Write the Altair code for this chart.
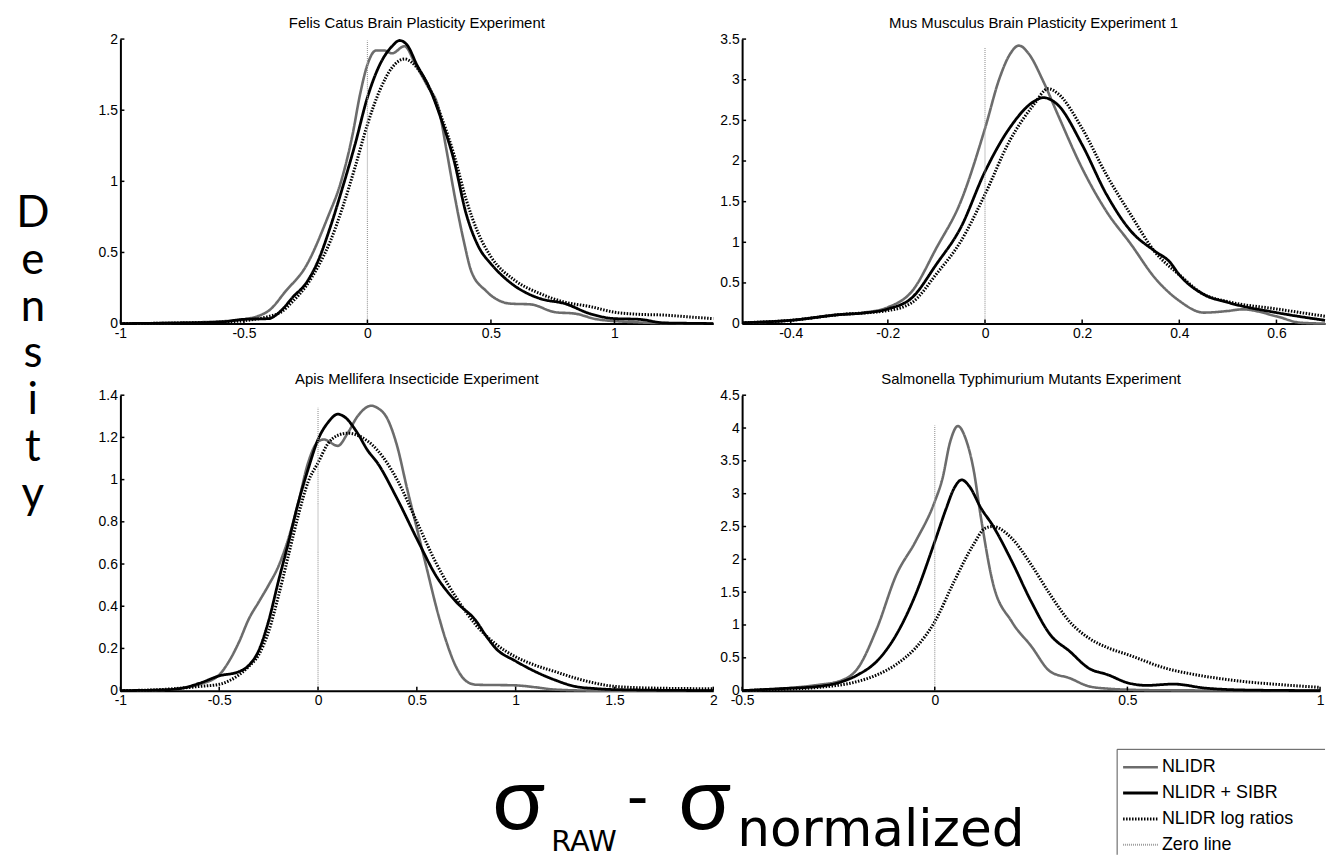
import altair as alt
import pandas as pd

# ---------------- text ----------------
titles = ["Felis Catus Brain Plasticity Experiment",
          "Mus Musculus Brain Plasticity Experiment 1",
          "Apis Mellifera Insecticide Experiment",
          "Salmonella Typhimurium Mutants Experiment"]
series_names = ["NLIDR", "NLIDR + SIBR", "NLIDR log ratios", "Zero line"]
y_title = "Density"

# ---------------- Felis Catus ----------------
felis_nlidr_x = [-1.0, -0.8, -0.6, -0.5, -0.4, -0.33, -0.25, -0.16, -0.11, -0.06, -0.03, 0.0, 0.035, 0.067, 0.10, 0.15, 0.195, 0.24, 0.29, 0.32, 0.356, 0.39, 0.42, 0.48, 0.58, 0.66, 0.76, 0.84, 0.93, 1.08, 1.2, 1.4]
felis_nlidr_y = [0.0, 0.005, 0.015, 0.03, 0.09, 0.23, 0.40, 0.75, 0.98, 1.33, 1.61, 1.82, 1.92, 1.92, 1.90, 1.95, 1.82, 1.68, 1.50, 1.22, 0.87, 0.58, 0.37, 0.23, 0.14, 0.135, 0.08, 0.07, 0.03, 0.01, 0.003, 0.0]
felis_sibr_x = [-1.0, -0.8, -0.6, -0.5, -0.4, -0.35, -0.3, -0.25, -0.2, -0.15, -0.1, -0.05, 0.0, 0.05, 0.1, 0.13, 0.16, 0.2, 0.25, 0.3, 0.35, 0.4, 0.45, 0.5, 0.55, 0.6, 0.65, 0.7, 0.8, 0.9, 1.0, 1.1, 1.2, 1.3, 1.4]
felis_sibr_y = [0.0, 0.003, 0.01, 0.03, 0.035, 0.09, 0.19, 0.28, 0.44, 0.68, 0.96, 1.26, 1.59, 1.82, 1.95, 1.99, 1.96, 1.82, 1.66, 1.43, 1.15, 0.77, 0.54, 0.42, 0.33, 0.26, 0.21, 0.175, 0.14, 0.07, 0.035, 0.03, 0.005, 0.002, 0.0]
felis_log_x = [-1.0, -0.8, -0.6, -0.5, -0.4, -0.35, -0.3, -0.25, -0.2, -0.15, -0.1, -0.05, 0.0, 0.05, 0.1, 0.15, 0.2, 0.25, 0.3, 0.35, 0.4, 0.45, 0.5, 0.6, 0.7, 0.8, 0.9, 1.0, 1.1, 1.2, 1.3, 1.4]
felis_log_y = [0.0, 0.003, 0.01, 0.02, 0.05, 0.08, 0.16, 0.26, 0.40, 0.58, 0.82, 1.10, 1.40, 1.64, 1.80, 1.86, 1.80, 1.66, 1.45, 1.19, 0.87, 0.63, 0.47, 0.30, 0.21, 0.15, 0.12, 0.08, 0.065, 0.06, 0.047, 0.035]

# ---------------- Mus Musculus ----------------
mus_nlidr_x = [-0.5, -0.4, -0.3, -0.25, -0.2, -0.15, -0.1, -0.05, 0.0, 0.03, 0.05, 0.07, 0.09, 0.12, 0.15, 0.2, 0.25, 0.3, 0.35, 0.4, 0.45, 0.5, 0.53, 0.6, 0.65, 0.7]
mus_nlidr_y = [0.01, 0.04, 0.11, 0.135, 0.2, 0.4, 0.93, 1.50, 2.40, 3.02, 3.30, 3.42, 3.32, 2.98, 2.57, 1.91, 1.38, 0.98, 0.56, 0.28, 0.135, 0.155, 0.175, 0.09, 0.01, 0.0]
mus_sibr_x = [-0.5, -0.4, -0.3, -0.25, -0.2, -0.15, -0.1, -0.05, 0.0, 0.05, 0.1, 0.12, 0.15, 0.2, 0.25, 0.3, 0.35, 0.38, 0.4, 0.45, 0.5, 0.6, 0.7]
mus_sibr_y = [0.01, 0.04, 0.11, 0.13, 0.18, 0.32, 0.73, 1.18, 1.87, 2.40, 2.73, 2.78, 2.69, 2.20, 1.59, 1.14, 0.89, 0.76, 0.60, 0.36, 0.26, 0.135, 0.04]
mus_log_x = [-0.5, -0.4, -0.3, -0.2, -0.15, -0.1, -0.05, 0.0, 0.05, 0.1, 0.13, 0.15, 0.2, 0.25, 0.3, 0.35, 0.4, 0.45, 0.5, 0.6, 0.7]
mus_log_y = [0.01, 0.04, 0.11, 0.16, 0.26, 0.61, 1.01, 1.59, 2.24, 2.69, 2.89, 2.83, 2.40, 1.83, 1.34, 0.88, 0.60, 0.36, 0.27, 0.18, 0.09]

# ---------------- Apis Mellifera ----------------
apis_nlidr_x = [-1.0, -0.8, -0.7, -0.6, -0.5, -0.45, -0.4, -0.35, -0.3, -0.25, -0.2, -0.15, -0.1, -0.05, 0.0, 0.03, 0.1, 0.15, 0.2, 0.27, 0.3, 0.35, 0.4, 0.45, 0.5, 0.55, 0.6, 0.65, 0.7, 0.75, 0.8, 1.0, 1.1, 1.2, 1.4, 2.0]
apis_nlidr_y = [0.0, 0.003, 0.01, 0.03, 0.075, 0.14, 0.23, 0.34, 0.42, 0.50, 0.59, 0.72, 0.89, 1.08, 1.18, 1.19, 1.16, 1.22, 1.30, 1.35, 1.34, 1.29, 1.16, 0.96, 0.77, 0.58, 0.39, 0.23, 0.11, 0.045, 0.028, 0.025, 0.016, 0.005, 0.0, 0.0]
apis_sibr_x = [-1.0, -0.8, -0.7, -0.6, -0.5, -0.4, -0.35, -0.3, -0.25, -0.2, -0.15, -0.1, -0.05, 0.0, 0.05, 0.1, 0.13, 0.2, 0.25, 0.3, 0.4, 0.5, 0.6, 0.7, 0.8, 0.85, 0.9, 1.0, 1.1, 1.2, 1.3, 1.4, 1.5, 2.0]
apis_sibr_y = [0.0, 0.003, 0.01, 0.035, 0.07, 0.09, 0.12, 0.19, 0.33, 0.52, 0.70, 0.89, 1.05, 1.19, 1.27, 1.31, 1.30, 1.22, 1.14, 1.08, 0.91, 0.72, 0.54, 0.42, 0.33, 0.26, 0.20, 0.14, 0.09, 0.05, 0.02, 0.01, 0.005, 0.0]
apis_log_x = [-1.0, -0.8, -0.6, -0.5, -0.4, -0.35, -0.3, -0.25, -0.2, -0.15, -0.1, -0.05, 0.0, 0.05, 0.1, 0.15, 0.2, 0.3, 0.4, 0.5, 0.6, 0.7, 0.8, 0.9, 1.0, 1.1, 1.2, 1.3, 1.4, 1.5, 1.7, 2.0]
apis_log_y = [0.0, 0.005, 0.02, 0.03, 0.075, 0.115, 0.17, 0.28, 0.45, 0.64, 0.83, 0.99, 1.08, 1.17, 1.21, 1.22, 1.21, 1.14, 1.00, 0.80, 0.60, 0.44, 0.31, 0.22, 0.16, 0.12, 0.09, 0.06, 0.036, 0.02, 0.012, 0.009]

# ---------------- Salmonella Typhimurium ----------------
salm_nlidr_x = [-0.5, -0.4, -0.3, -0.25, -0.2, -0.15, -0.1, -0.05, 0.0, 0.02, 0.04, 0.06, 0.08, 0.1, 0.12, 0.15, 0.2, 0.25, 0.3, 0.35, 0.4, 0.45, 0.5, 0.6, 1.0]
salm_nlidr_y = [0.0, 0.03, 0.09, 0.14, 0.34, 0.95, 1.76, 2.27, 2.88, 3.23, 3.79, 4.03, 3.84, 3.39, 2.63, 1.66, 1.05, 0.68, 0.29, 0.19, 0.066, 0.03, 0.015, 0.005, 0.0]
salm_sibr_x = [-0.5, -0.4, -0.3, -0.25, -0.2, -0.15, -0.1, -0.05, 0.0, 0.03, 0.05, 0.07, 0.09, 0.12, 0.15, 0.2, 0.25, 0.3, 0.35, 0.4, 0.45, 0.5, 0.55, 0.62, 0.7, 0.8, 1.0]
salm_sibr_y = [0.0, 0.03, 0.066, 0.12, 0.24, 0.45, 0.85, 1.46, 2.27, 2.78, 3.08, 3.21, 3.11, 2.78, 2.52, 1.97, 1.36, 0.85, 0.60, 0.34, 0.24, 0.12, 0.08, 0.10, 0.04, 0.01, 0.0]
salm_log_x = [-0.5, -0.4, -0.3, -0.2, -0.15, -0.1, -0.05, 0.0, 0.05, 0.1, 0.13, 0.15, 0.2, 0.25, 0.3, 0.35, 0.4, 0.45, 0.5, 0.6, 0.7, 0.8, 0.9, 1.0]
salm_log_y = [0.0, 0.02, 0.05, 0.14, 0.24, 0.40, 0.65, 1.05, 1.66, 2.22, 2.47, 2.50, 2.32, 1.92, 1.46, 1.05, 0.80, 0.65, 0.55, 0.34, 0.22, 0.14, 0.09, 0.05]

# zero-line heights
zero_tops = [1.99, 3.39, 1.34, 4.04]

# axis domains and ticks
x_domains = [[-1, 1.4], [-0.5, 0.7], [-1, 2], [-0.5, 1]]
y_domains = [[0, 2], [0, 3.5], [0, 1.4], [0, 4.5]]
x_ticks = [[-1, -0.5, 0, 0.5, 1], [-0.4, -0.2, 0, 0.2, 0.4, 0.6],
           [-1, -0.5, 0, 0.5, 1, 1.5, 2], [-0.5, 0, 0.5, 1]]
y_ticks = [[0, 0.5, 1, 1.5, 2], [0, 0.5, 1, 1.5, 2, 2.5, 3, 3.5],
           [0, 0.2, 0.4, 0.6, 0.8, 1, 1.2, 1.4], [0, 0.5, 1, 1.5, 2, 2.5, 3, 3.5, 4, 4.5]]

# ---------------- styles ----------------
COLORS = ["#6c6c6c", "#000000", "#000000", "#9d9d9d"]
DASHES = [[1, 0], [1, 0], [1.5, 1.5], [1, 1]]
WIDTHS = [2.6, 3.0, 3.0, 1.2]
TICK_FONT = "Liberation Sans"
BIG_FONT = "Lato, DejaVu Sans"
WIDE_FONT = "DejaVu Sans"

curve_names = series_names[:3]


def label_axis(values, pad):
    return alt.Axis(values=values, title=None, grid=False, tickSize=0, ticks=False,
                    domainWidth=2, domainColor="black", labelFont=TICK_FONT,
                    labelFontSize=14, labelColor="black", labelPadding=pad,
                    labelOverlap=False, labelFlush=False,
                    labelExpr="'' + datum.value")


def one_row():
    return pd.DataFrame({"k": [0]})


def text_layer(s, x, y, size, font, align="left", baseline="alphabetic"):
    return alt.Chart(one_row()).mark_text(
        text=s, font=font, fontSize=size, align=align, baseline=baseline, color="black"
    ).encode(x=alt.value(x), y=alt.value(y))


def panel(i, curves, W, H, extras):
    rows = []
    for name, xs, ys in curves:
        for xv, yv in zip(xs, ys):
            rows.append({"x": xv, "y": yv, "series": name})
    df = pd.DataFrame(rows)
    xsc = alt.Scale(domain=x_domains[i], nice=False, zero=False)
    ysc = alt.Scale(domain=y_domains[i], nice=False, zero=False)
    xax = label_axis(x_ticks[i], 3)
    yax = label_axis(y_ticks[i], 3)

    lines = alt.Chart(df).mark_line(interpolate="monotone", strokeCap="butt").encode(
        x=alt.X("x:Q", scale=xsc, axis=xax),
        y=alt.Y("y:Q", scale=ysc, axis=yax),
        color=alt.Color("series:N", scale=alt.Scale(domain=curve_names, range=COLORS[:3]), legend=None),
        strokeDash=alt.StrokeDash("series:N", scale=alt.Scale(domain=curve_names, range=DASHES[:3]), legend=None),
        strokeWidth=alt.StrokeWidth("series:N", scale=alt.Scale(domain=curve_names, range=WIDTHS[:3]), legend=None),
        detail="series:N",
    )
    zero = alt.Chart(pd.DataFrame({"x": [0.0], "y": [0.0], "top": [zero_tops[i]]})).mark_rule(
        color=COLORS[3], strokeDash=DASHES[3], strokeWidth=WIDTHS[3]
    ).encode(x=alt.X("x:Q", scale=xsc, axis=xax), y=alt.Y("y:Q", scale=ysc, axis=yax), y2="top:Q")
    xt = alt.Chart(pd.DataFrame({"x": x_ticks[i]})).mark_rule(color="black", strokeWidth=1.5).encode(
        x=alt.X("x:Q", scale=xsc, axis=xax), y=alt.value(H - 4), y2=alt.value(H))
    yt = alt.Chart(pd.DataFrame({"y": y_ticks[i]})).mark_rule(color="black", strokeWidth=1.5).encode(
        y=alt.Y("y:Q", scale=ysc, axis=yax), x=alt.value(0), x2=alt.value(4))
    return alt.layer(lines, zero, xt, yt, *extras).properties(
        width=W, height=H,
        view=alt.ViewBackground(stroke="transparent", strokeWidth=0),
        title=alt.TitleParams(titles[i], font=TICK_FONT, fontSize=15, fontWeight="normal",
                              color="black", offset=1, anchor="middle"))


# "Density" written letter by letter, left of the first column
density_layers = [text_layer(ch, -88, 189 + 47 * k, 44, BIG_FONT, align="center")
                  for k, ch in enumerate(y_title)]

# x label below the bottom-left panel
xlabel_layers = [
    text_layer("σ", 400, 436, 88, BIG_FONT, align="center"),
    text_layer("RAW", 433, 458, 29, WIDE_FONT),
    text_layer("-", 520, 427, 64, BIG_FONT, align="center"),
    text_layer("σ", 587, 436, 88, BIG_FONT, align="center"),
    text_layer("normalized", 620, 453, 52, WIDE_FONT),
]

# legend drawn below the bottom-right panel
LX = 377
legend_layers = [
    alt.Chart(one_row()).mark_rule(color="#555555", strokeWidth=1).encode(
        x=alt.value(LX), x2=alt.value(586), y=alt.value(356)),
    alt.Chart(one_row()).mark_rule(color="#555555", strokeWidth=1).encode(
        x=alt.value(LX), y=alt.value(356), y2=alt.value(462)),
]
for k, name in enumerate(series_names):
    yy = 374 + 26 * k
    legend_layers.append(
        alt.Chart(one_row()).mark_rule(color=COLORS[k], strokeDash=DASHES[k],
                                       strokeWidth=WIDTHS[k] if k < 3 else 2, strokeCap="butt").encode(
            x=alt.value(LX + 6), x2=alt.value(LX + 41), y=alt.value(yy)))
    legend_layers.append(text_layer(name, LX + 45, yy, 18, TICK_FONT, baseline="middle"))

p1 = panel(0, [(curve_names[0], felis_nlidr_x, felis_nlidr_y),
               (curve_names[1], felis_sibr_x, felis_sibr_y),
               (curve_names[2], felis_log_x, felis_log_y)], 596, 286, density_layers)
p2 = panel(1, [(curve_names[0], mus_nlidr_x, mus_nlidr_y),
               (curve_names[1], mus_sibr_x, mus_sibr_y),
               (curve_names[2], mus_log_x, mus_log_y)], 586, 286, [])
p3 = panel(2, [(curve_names[0], apis_nlidr_x, apis_nlidr_y),
               (curve_names[1], apis_sibr_x, apis_sibr_y),
               (curve_names[2], apis_log_x, apis_log_y)], 596, 297, xlabel_layers)
p4 = panel(3, [(curve_names[0], salm_nlidr_x, salm_nlidr_y),
               (curve_names[1], salm_sibr_x, salm_sibr_y),
               (curve_names[2], salm_log_x, salm_log_y)], 581, 297, legend_layers)

chart = alt.concat(
    p1, p2, p3, p4, columns=2, bounds="flush", align="none",
    spacing={"row": 72, "column": 29},
).resolve_scale(
    x="independent", y="independent"
).properties(
    padding={"left": 8, "top": 6, "right": 0, "bottom": 0}
).configure_view(stroke="transparent", strokeWidth=0).configure(background="white")

chart.save("out.html", embed_options={"renderer": "svg", "actions": False})
